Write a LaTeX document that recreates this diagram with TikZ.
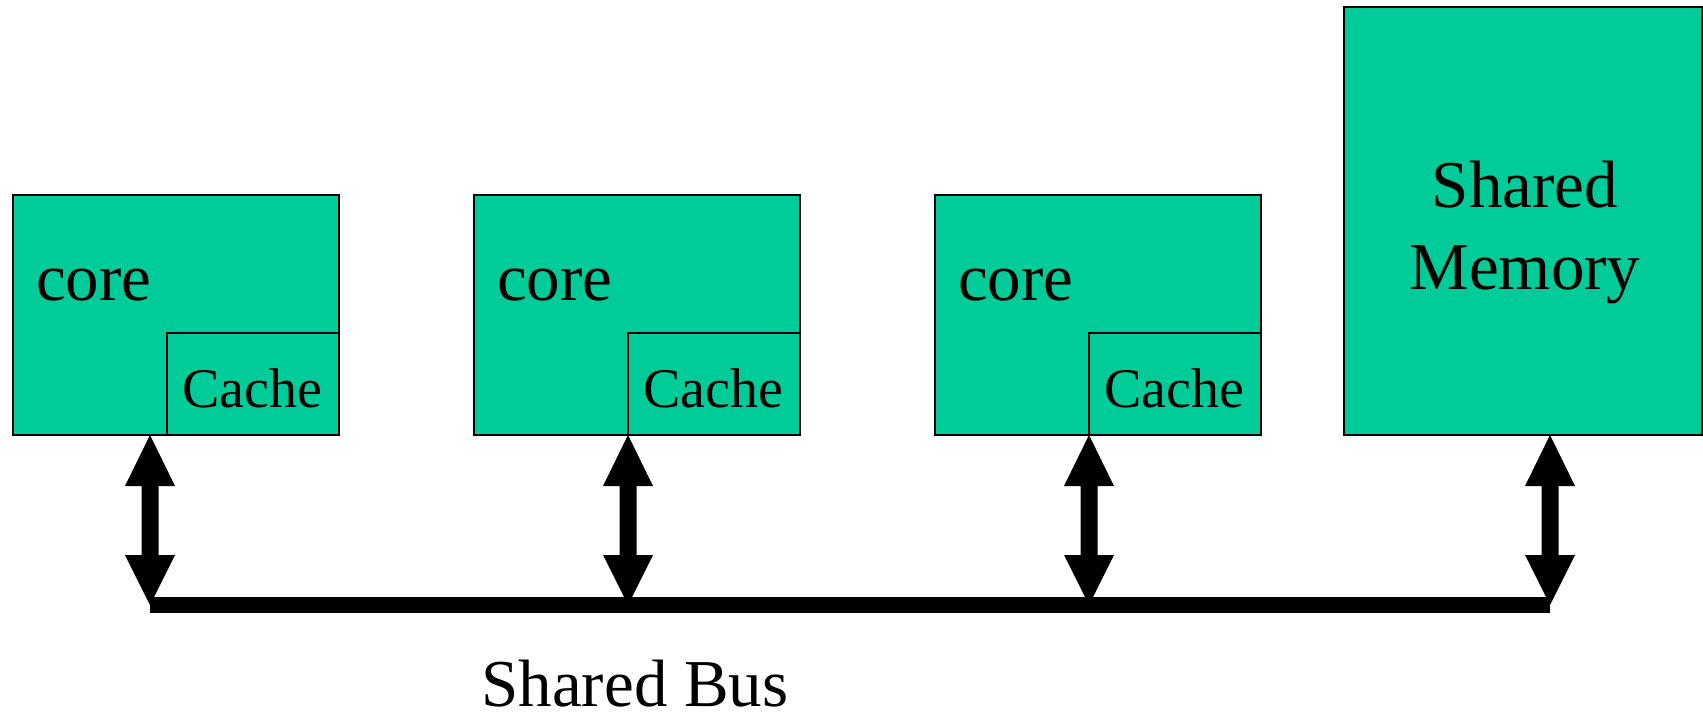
\documentclass[tikz,border=0pt]{standalone}
\usepackage{fontspec}
\setmainfont{Liberation Serif}
\usetikzlibrary{calc}
\definecolor{boxgreen}{RGB}{0,204,153}
\tikzset{
  box/.style={draw=black, line width=2pt, fill=boxgreen},
  lbl/.style={inner sep=0pt, anchor=base west},
  bigfont/.style={font=\fontsize{67}{80}\selectfont},
  cachefont/.style={font=\fontsize{56}{66}\selectfont},
}
\newcommand{\dblarrow}[2]{%
  \fill[black] (#1) -- ($(#1)+(25,51)$) -- ($(#1)+(8.5,51)$) -- ($(#2)+(8.5,-50)$) -- ($(#2)+(25,-50)$) -- (#2) -- ($(#2)+(-25,-50)$) -- ($(#2)+(-8.5,-50)$) -- ($(#1)+(-8.5,51)$) -- ($(#1)+(-25,51)$) -- cycle;}
\begin{document}
\begin{tikzpicture}[x=1pt,y=-1pt]
\useasboundingbox (0,0) rectangle (1703,713);
% cores
\foreach \n/\x in {1/13, 2/474, 3/935} {
  \draw[box] (\x,195) rectangle ++(326,240);
  \draw[box] (\x+154,333) rectangle (\x+326,435);
  \node[lbl, bigfont] (core\n) at (\x+23,300) {core};
  \node[lbl, cachefont] (cache\n) at (\x+169,407) {Cache};
}
% memory
\draw[box] (1344,7) rectangle (1702,435);
\node[inner sep=0pt, anchor=base, bigfont] (mem1) at (1525,207) {Shared};
\node[inner sep=0pt, anchor=base, bigfont] (mem2) at (1525,289) {Memory};
% arrow end points
\coordinate (t1) at (150,435);  \coordinate (b1) at (150,605);
\coordinate (t2) at (628,435);  \coordinate (b2) at (628,605);
\coordinate (t3) at (1089,435); \coordinate (b3) at (1089,605);
\coordinate (t4) at (1550,435); \coordinate (b4) at (1550,605);
% bus
\draw[line width=16pt] (b1) -- (b4);
\dblarrow{t1}{b1}
\dblarrow{t2}{b2}
\dblarrow{t3}{b3}
\dblarrow{t4}{b4}
\node[inner sep=0pt, anchor=base, bigfont] (bus) at (635,706) {Shared Bus};
\end{tikzpicture}
\end{document}
